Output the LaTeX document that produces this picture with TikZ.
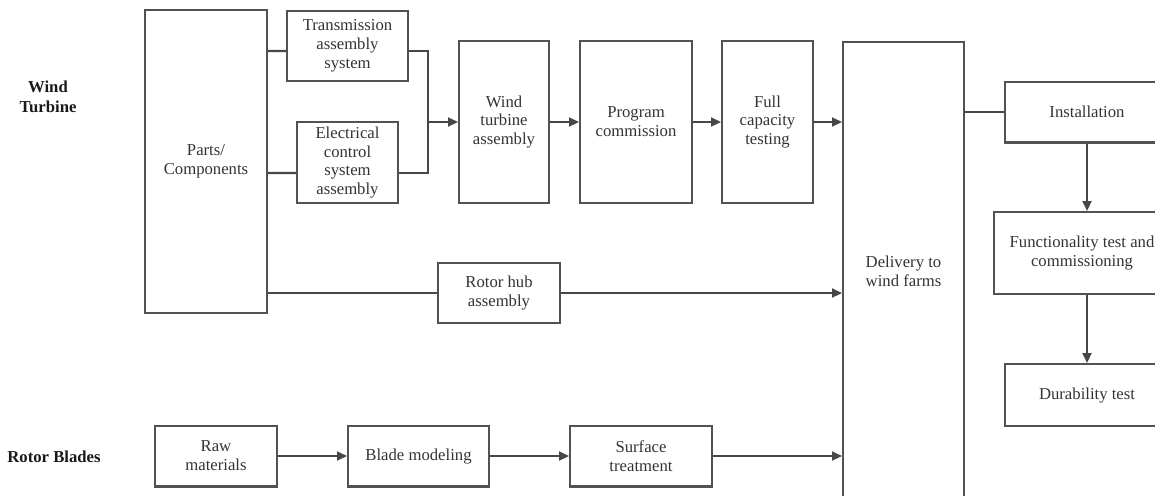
\documentclass[tikz,border=0pt]{standalone}
\usepackage{fontspec}
\setmainfont{Liberation Serif}
\usetikzlibrary{arrows.meta}

\tikzset{
    box/.style={draw=black!68, line width=1.15pt, align=center, inner sep=0pt,
        text=black!80, font=\fontsize{9.5}{10.8}\selectfont},
    sidelabel/.style={align=center, text=black!90, font=\fontsize{9.5}{11.4}\selectfont\bfseries},
    flow/.style={draw=black!72, line width=1.15pt},
    >={Triangle[length=0.2cm,width=0.18cm]}
}

\begin{document}
\begin{tikzpicture}[x=0.02cm, y=-0.02cm]
    \clip (0,0) rectangle (1155,495);
    \node [sidelabel] (wt) at (48,97) {Wind\\Turbine};
    \node [sidelabel] (rb) at (54,457) {Rotor Blades};

    \node [box, minimum width=2.44cm, minimum height=6.06cm] (parts) at (206,161.5) {Parts/\\Components};
    \node [box, minimum width=2.42cm, minimum height=1.40cm] (trans) at (347.5,46) {Transmission\\assembly\\system};
    \node [box, minimum width=2.02cm, minimum height=1.62cm] (elec) at (347.5,162.5) {Electrical\\control\\system\\assembly};
    \node [box, minimum width=1.80cm, minimum height=3.24cm] (wta) at (504,122) {Wind\\turbine\\assembly};
    \node [box, minimum width=2.24cm, minimum height=3.24cm] (prog) at (636,122) {Program\\commission};
    \node [box, minimum width=1.82cm, minimum height=3.24cm] (full) at (767.5,122) {Full\\capacity\\testing};
    \node [box, minimum width=2.44cm, minimum height=1.20cm] (hub) at (499,293) {Rotor hub\\assembly};
    \node [box, minimum width=2.42cm, minimum height=9.16cm] (deliv) at (903.5,271) {Delivery to\\wind farms};

    \node [box, minimum width=2.44cm, minimum height=1.22cm] (raw) at (216,456) {Raw\\materials};
    \node [box, minimum width=2.82cm, minimum height=1.22cm] (blade) at (418.5,456) {Blade modeling};
    \node [box, minimum width=2.84cm, minimum height=1.22cm] (surf) at (641,456) {Surface\\treatment};

    \node [box, minimum width=3.30cm, minimum height=1.22cm] (inst) at (1087,112) {Installation};
    \node [box, minimum width=3.52cm, minimum height=1.64cm] (func) at (1082,253) {Functionality test and\\commissioning};
    \node [box, minimum width=3.30cm, minimum height=1.24cm] (dura) at (1087,395) {Durability test};

    \coordinate (join) at (428,122);
    \draw [flow] (parts.east |- trans.west) ++(0,5) -- ([yshift=-0.1cm]trans.west);
    \draw [flow] (parts.east |- elec.west) ++(0,10.5) -- ([yshift=-0.21cm]elec.west);
    \draw [flow] ([yshift=-0.1cm]trans.east) -| (join) |- ([yshift=-0.21cm]elec.east);
    \draw [flow, ->] (join) -- (wta.west);
    \draw [flow, ->] (wta) -- (prog);
    \draw [flow, ->] (prog) -- (full);
    \draw [flow, ->] (full.east) -- (full.east -| deliv.west);
    \draw [flow] (parts.east |- hub.west) -- (hub.west);
    \draw [flow, ->] (hub.east) -- (hub.east -| deliv.west);
    \draw [flow, ->] (raw) -- (blade);
    \draw [flow, ->] (blade) -- (surf);
    \draw [flow, ->] (surf.east) -- (surf.east -| deliv.west);
    \draw [flow] (deliv.east |- inst.west) -- (inst.west);
    \draw [flow, ->] (inst.south) -- (inst.south |- func.north);
    \draw [flow, ->] (dura.north |- func.south) -- (dura.north);
\end{tikzpicture}
\end{document}
